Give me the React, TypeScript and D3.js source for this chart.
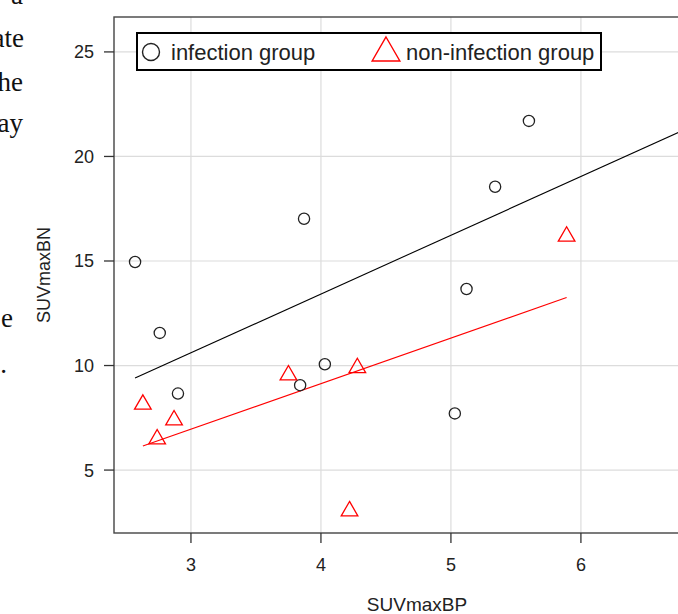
import * as d3 from 'd3'

const WIDTH = 678
const HEIGHT = 614
// plot frame (right side runs past the cropped picture)
const PLOT = { left: 114, top: 17, right: 720, bottom: 533 }

const X_TICKS = [3, 4, 5, 6]
const Y_TICKS = [5, 10, 15, 20, 25]

// infection group (circles)
const infectionBP = [2.57, 2.76, 2.9, 3.87, 3.84, 4.03, 5.03, 5.12, 5.34, 5.6]
const infectionBN = [14.95, 11.56, 8.66, 17.02, 9.06, 10.06, 7.71, 13.66, 18.55, 21.7]

// non-infection group (triangles)
const nonInfectionBP = [2.63, 2.74, 2.87, 3.75, 4.28, 4.22, 5.89]
const nonInfectionBN = [8.14, 6.48, 7.39, 9.54, 9.89, 3.04, 16.18]

// fitted lines
const infectionFitBP = [2.57, 7.07]
const infectionFitBN = [9.4, 22.05]
const nonInfectionFitBP = [2.63, 5.89]
const nonInfectionFitBN = [6.15, 13.25]

// text column of the page on the left, cut off by the crop
const sideText = [
  { text: 'a', y: 4, x: 23 },
  { text: 'ate', y: 47, x: 24 },
  { text: 'he', y: 91, x: 23 },
  { text: 'ay', y: 132, x: 23 },
  { text: 'e', y: 327, x: 13 },
  { text: '.', y: 373, x: 7 },
]

const FONT = 'Liberation Sans, Arial, sans-serif'
const TEXT = '#222'

function trianglePath(r: number): string {
  const xc = r * Math.sqrt(3) / 2
  return `M0,${-r}L${xc},${r / 2}L${-xc},${r / 2}Z`
}

export default function App() {
  const x = d3.scaleLinear().domain([2.408, 7.07]).range([PLOT.left, PLOT.right])
  const y = d3.scaleLinear().domain([1.99, 26.67]).range([PLOT.bottom, PLOT.top])

  const line = d3
    .line<[number, number]>()
    .x((d) => x(d[0]))
    .y((d) => y(d[1]))

  const infFit = line(d3.zip(infectionFitBP, infectionFitBN) as [number, number][]) ?? ''
  const nonFit = line(d3.zip(nonInfectionFitBP, nonInfectionFitBN) as [number, number][]) ?? ''

  return (
    <svg
      width={WIDTH}
      height={HEIGHT}
      style={{ position: 'absolute', left: 0, top: 0, background: '#fff' }}
    >
      {/* page text */}
      {sideText.map((t, i) => (
        <text
          key={i}
          x={t.x}
          y={t.y}
          textAnchor="end"
          fontFamily="Liberation Serif, Times New Roman, serif"
          fontSize={27}
          fill="#111"
        >
          {t.text}
        </text>
      ))}

      {/* grid */}
      {X_TICKS.map((t) => (
        <line key={`gx${t}`} x1={x(t)} x2={x(t)} y1={PLOT.top} y2={PLOT.bottom} stroke="#dcdcdc" strokeWidth={1.2} />
      ))}
      {Y_TICKS.map((t) => (
        <line key={`gy${t}`} x1={PLOT.left} x2={PLOT.right} y1={y(t)} y2={y(t)} stroke="#dcdcdc" strokeWidth={1.2} />
      ))}

      {/* frame */}
      <rect
        x={PLOT.left}
        y={PLOT.top}
        width={PLOT.right - PLOT.left}
        height={PLOT.bottom - PLOT.top}
        fill="none"
        stroke="#444"
        strokeWidth={1.4}
      />

      {/* axes */}
      {X_TICKS.map((t) => (
        <g key={`tx${t}`}>
          <line x1={x(t)} x2={x(t)} y1={PLOT.bottom} y2={PLOT.bottom + 10} stroke="#333" strokeWidth={1.3} />
          <text x={x(t)} y={571} textAnchor="middle" fontFamily={FONT} fontSize={18} fill={TEXT}>
            {t}
          </text>
        </g>
      ))}
      {Y_TICKS.map((t) => (
        <g key={`ty${t}`}>
          <line x1={PLOT.left - 10} x2={PLOT.left} y1={y(t)} y2={y(t)} stroke="#333" strokeWidth={1.3} />
          <text x={94} y={y(t) + 6.5} textAnchor="end" fontFamily={FONT} fontSize={18} fill={TEXT}>
            {t}
          </text>
        </g>
      ))}
      <text
        x={(PLOT.left + PLOT.right) / 2}
        y={611}
        textAnchor="middle"
        fontFamily={FONT}
        fontSize={19}
        fill={TEXT}
      >
        SUVmaxBP
      </text>
      <text
        transform={`translate(50,${(PLOT.top + PLOT.bottom) / 2}) rotate(-90)`}
        textAnchor="middle"
        fontFamily={FONT}
        fontSize={18}
        fill={TEXT}
      >
        SUVmaxBN
      </text>

      {/* fitted lines */}
      <path d={infFit} fill="none" stroke="#000" strokeWidth={1.1} />
      <path d={nonFit} fill="none" stroke="#ff0000" strokeWidth={1.1} />

      {/* points */}
      {infectionBP.map((v, i) => (
        <circle key={`c${i}`} cx={x(v)} cy={y(infectionBN[i])} r={5.6} fill="none" stroke="#222" strokeWidth={1.3} />
      ))}
      {nonInfectionBP.map((v, i) => (
        <path
          key={`t${i}`}
          d={trianglePath(9.6)}
          transform={`translate(${x(v)},${y(nonInfectionBN[i])})`}
          fill="none"
          stroke="#ff0000"
          strokeWidth={1.3}
        />
      ))}

      {/* legend */}
      <g>
        <rect x={137} y={33} width={464} height={37} fill="#fff" stroke="#000" strokeWidth={2} />
        <circle cx={151} cy={52} r={8.5} fill="none" stroke="#222" strokeWidth={1.4} />
        <text x={171} y={60} fontFamily={FONT} fontSize={22} fill={TEXT}>
          infection group
        </text>
        <path d={trianglePath(16)} transform="translate(386,53)" fill="none" stroke="#ff0000" strokeWidth={1.4} />
        <text x={406} y={60} fontFamily={FONT} fontSize={22} fill={TEXT}>
          non-infection group
        </text>
      </g>
    </svg>
  )
}
